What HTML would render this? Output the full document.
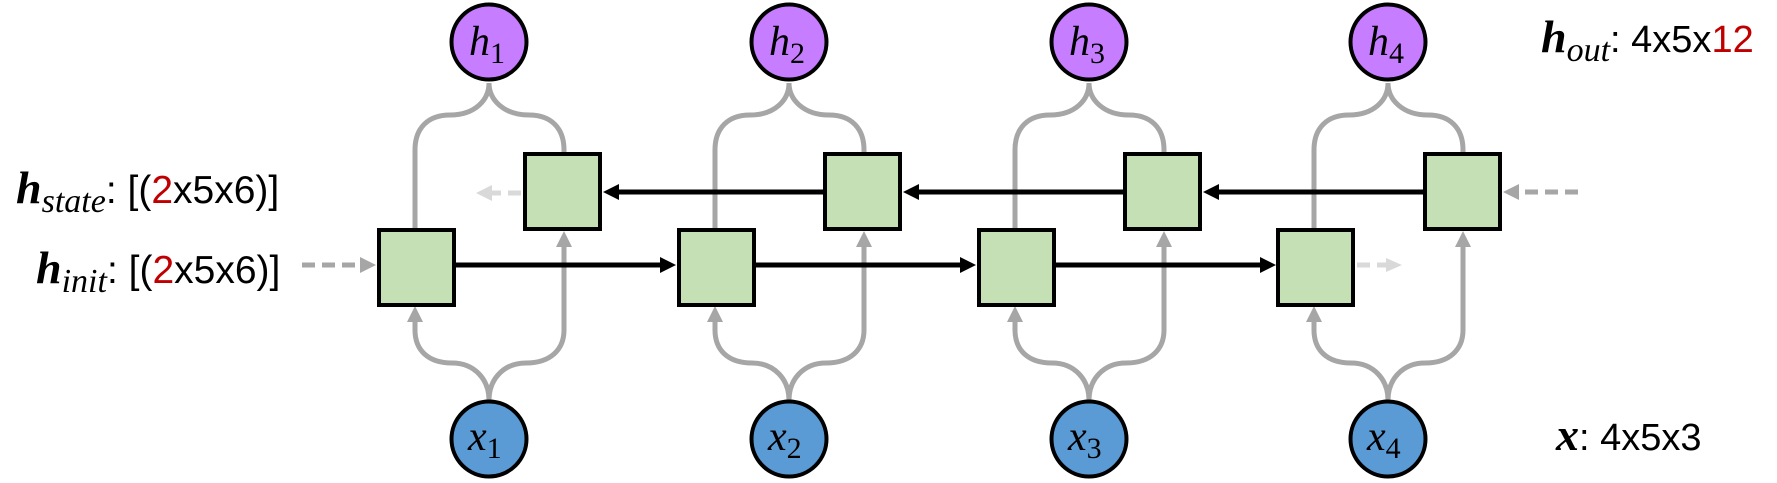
<!DOCTYPE html>
<html><head><meta charset="utf-8"><style>
html,body{margin:0;padding:0;background:#fff}
svg{display:block}
.m{font-family:"Liberation Serif",serif;font-style:italic}
.s{font-family:"Liberation Sans",sans-serif}
</style></head><body>
<svg width="1777" height="483" viewBox="0 0 1777 483" xmlns="http://www.w3.org/2000/svg">
<g fill="none" stroke="#a6a6a6" stroke-width="5">
<path d="M415 228 V150 C415 128 428 115 450 115 C475 115 489 100 489 83"/>
<path d="M564 153 V150 C564 128 551 115 529 115 C504 115 489 100 489 83"/>
<path d="M489 400 C489 380 475 363 452 363 C428 363 415 350 415 330 V318"/>
<path d="M489 400 C489 380 503 363 526 363 C550 363 564 350 564 330 V243"/>
<path d="M715 228 V150 C715 128 728 115 750 115 C775 115 789 100 789 83"/>
<path d="M864 153 V150 C864 128 851 115 829 115 C804 115 789 100 789 83"/>
<path d="M789 400 C789 380 775 363 752 363 C728 363 715 350 715 330 V318"/>
<path d="M789 400 C789 380 803 363 826 363 C850 363 864 350 864 330 V243"/>
<path d="M1015 228 V150 C1015 128 1028 115 1050 115 C1075 115 1089 100 1089 83"/>
<path d="M1164 153 V150 C1164 128 1151 115 1129 115 C1104 115 1089 100 1089 83"/>
<path d="M1089 400 C1089 380 1075 363 1052 363 C1028 363 1015 350 1015 330 V318"/>
<path d="M1089 400 C1089 380 1103 363 1126 363 C1150 363 1164 350 1164 330 V243"/>
<path d="M1314 228 V150 C1314 128 1327 115 1349 115 C1374 115 1388 100 1388 83"/>
<path d="M1463 153 V150 C1463 128 1450 115 1428 115 C1403 115 1388 100 1388 83"/>
<path d="M1388 400 C1388 380 1374 363 1351 363 C1327 363 1314 350 1314 330 V318"/>
<path d="M1388 400 C1388 380 1402 363 1425 363 C1449 363 1463 350 1463 330 V243"/>
</g>
<g fill="#a6a6a6">
<path d="M407 322 L423 322 L415 306 z"/><path d="M556 247 L572 247 L564 231 z"/>
<path d="M707 322 L723 322 L715 306 z"/><path d="M856 247 L872 247 L864 231 z"/>
<path d="M1007 322 L1023 322 L1015 306 z"/><path d="M1156 247 L1172 247 L1164 231 z"/>
<path d="M1306 322 L1322 322 L1314 306 z"/><path d="M1455 247 L1471 247 L1463 231 z"/>
</g>
<g stroke="#000" stroke-width="5" fill="none">
<path d="M454 265 H662"/><path d="M754 265 H962"/><path d="M1054 265 H1262"/>
<path d="M1423 192 H1218"/><path d="M1123 192 H918"/><path d="M823 192 H618"/>
</g>
<g fill="#000">
<path d="M660 257 L676 265 L660 273 z"/><path d="M960 257 L976 265 L960 273 z"/><path d="M1260 257 L1276 265 L1260 273 z"/>
<path d="M1219 184 L1203 192 L1219 200 z"/><path d="M919 184 L903 192 L919 200 z"/><path d="M619 184 L603 192 L619 200 z"/>
</g>
<g fill="none" stroke-width="5" stroke-dasharray="13 7">
<path d="M302 265 H362" stroke="#a6a6a6"/>
<path d="M1578 192 H1518" stroke="#a6a6a6"/>
<path d="M521 193 H490" stroke="#d9d9d9"/>
<path d="M1357 265 H1388" stroke="#d9d9d9"/>
</g>
<path d="M360 257 L376 265 L360 273 z" fill="#a6a6a6"/>
<path d="M1519 184 L1503 192 L1519 200 z" fill="#a6a6a6"/>
<path d="M492 185 L476 193 L492 201 z" fill="#d9d9d9"/>
<path d="M1386 258 L1402 265 L1386 272 z" fill="#d9d9d9"/>
<g fill="#c5e0b4" stroke="#000" stroke-width="4">
<rect x="379" y="230" width="75" height="75"/><rect x="679" y="230" width="75" height="75"/>
<rect x="979" y="230" width="75" height="75"/><rect x="1278" y="230" width="75" height="75"/>
<rect x="525" y="154" width="75" height="75"/><rect x="825" y="154" width="75" height="75"/>
<rect x="1125" y="154" width="75" height="75"/><rect x="1425" y="154" width="75" height="75"/>
</g>
<g stroke="#000" stroke-width="4">
<circle cx="489" cy="42" r="37.5" fill="#c77dff"/><circle cx="789" cy="42" r="37.5" fill="#c77dff"/>
<circle cx="1089" cy="42" r="37.5" fill="#c77dff"/><circle cx="1388" cy="42" r="37.5" fill="#c77dff"/>
<circle cx="489" cy="439" r="37.5" fill="#5b9bd5"/><circle cx="789" cy="439" r="37.5" fill="#5b9bd5"/>
<circle cx="1089" cy="439" r="37.5" fill="#5b9bd5"/><circle cx="1388" cy="439" r="37.5" fill="#5b9bd5"/>
</g>
<g class="m" font-size="42" fill="#000">
<text x="469" y="55">h<tspan font-size="30" font-style="normal" dy="8">1</tspan></text>
<text x="769" y="55">h<tspan font-size="30" font-style="normal" dy="8">2</tspan></text>
<text x="1069" y="55">h<tspan font-size="30" font-style="normal" dy="8">3</tspan></text>
<text x="1368" y="55">h<tspan font-size="30" font-style="normal" dy="8">4</tspan></text>
<text x="468" y="450">x<tspan font-size="30" font-style="normal" dy="8">1</tspan></text>
<text x="768" y="450">x<tspan font-size="30" font-style="normal" dy="8">2</tspan></text>
<text x="1068" y="450">x<tspan font-size="30" font-style="normal" dy="8">3</tspan></text>
<text x="1367" y="450">x<tspan font-size="30" font-style="normal" dy="8">4</tspan></text>
</g>
<text x="16" y="203" font-size="39"><tspan class="m" font-weight="bold" font-size="46">h</tspan><tspan class="m" font-size="34" dy="9">state</tspan><tspan class="s" dy="-9">: [(<tspan fill="#c00000">2</tspan>x5x6)]</tspan></text>
<text x="36" y="283" font-size="39"><tspan class="m" font-weight="bold" font-size="46">h</tspan><tspan class="m" font-size="34" dy="9">init</tspan><tspan class="s" dy="-9">: [(<tspan fill="#c00000">2</tspan>x5x6)]</tspan></text>
<text x="1541" y="52" font-size="38"><tspan class="m" font-weight="bold" font-size="46">h</tspan><tspan class="m" font-size="34" dy="9">out</tspan><tspan class="s" dy="-9">: 4x5x<tspan fill="#c00000">12</tspan></tspan></text>
<text x="1556" y="450" font-size="38"><tspan class="m" font-weight="bold" font-size="46">x</tspan><tspan class="s">: 4x5x3</tspan></text>
</svg>
</body></html>
